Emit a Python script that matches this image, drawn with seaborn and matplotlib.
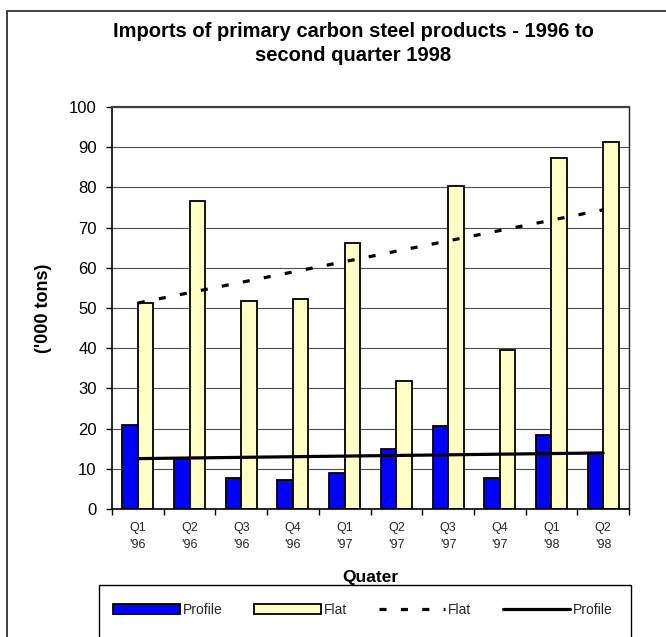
import numpy as np
import pandas as pd
import matplotlib
matplotlib.use("Agg")
import matplotlib.pyplot as plt
import seaborn as sns
from matplotlib.patches import Patch, Rectangle
from matplotlib.lines import Line2D

# ---- data ----
quarters = ["Q1\n'96", "Q2\n'96", "Q3\n'96", "Q4\n'96", "Q1\n'97",
            "Q2\n'97", "Q3\n'97", "Q4\n'97", "Q1\n'98", "Q2\n'98"]
profile = [20.8, 12.5, 7.6, 7.1, 8.9, 15.0, 20.6, 7.6, 18.3, 14.0]
flat = [51.2, 76.6, 51.7, 52.2, 66.2, 31.9, 80.3, 39.6, 87.4, 91.2]
series_names = ["Profile", "Flat"]
title = "Imports of primary carbon steel products - 1996 to\nsecond quarter 1998"
y_label = "('000 tons)"
x_label = "Quater"

BLUE = "#0000FF"
YELLOW = "#FFFFC6"

df = pd.DataFrame({
    "quarter": quarters * 2,
    "value": profile + flat,
    "series": ["Profile"] * len(quarters) + ["Flat"] * len(quarters),
})

sns.set_theme(style="white")
plt.rcParams["font.family"] = ["Liberation Sans", "DejaVu Sans"]

fig = plt.figure(figsize=(6.66, 6.37), dpi=100)
W, H = 666, 637
ax = fig.add_axes([112 / W, 1 - 509 / H, 517 / W, 402 / H])

sns.barplot(data=df, x="quarter", y="value", hue="series",
            hue_order=series_names, palette=[BLUE, YELLOW], saturation=1,
            order=quarters, width=0.6, gap=0, edgecolor="black",
            linewidth=1.3, legend=False, ax=ax, zorder=2)

pos = np.arange(len(quarters))
sns.regplot(x=pos, y=np.array(flat), scatter=False, ci=None, truncate=True,
            ax=ax, line_kws=dict(color="black", lw=2.3, ls=(0, (2.2, 4.5)), zorder=4))
sns.regplot(x=pos, y=np.array(profile), scatter=False, ci=None, truncate=True,
            ax=ax, line_kws=dict(color="black", lw=2.3, ls="-", zorder=4))

ax.set_xlim(-0.5, len(quarters) - 0.5)
ax.set_ylim(0, 100)
ax.set_yticks(np.arange(0, 101, 10))
ax.set_xticks(pos)
ax.set_xticklabels(quarters)
ax.set_xticks(np.arange(-0.5, len(quarters), 1.0), minor=True)

ax.set_axisbelow(True)
ax.yaxis.grid(True, color="0.3", lw=0.8)
ax.xaxis.grid(False)

for side, c, lw in [("left", "black", 1.2), ("bottom", "black", 1.2),
                    ("top", "0.25", 1.6), ("right", "0.1", 1.0)]:
    ax.spines[side].set_visible(True)
    ax.spines[side].set_color(c)
    ax.spines[side].set_linewidth(lw)

ax.tick_params(axis="y", which="major", direction="out", length=4, width=1,
               color="black", labelsize=12, pad=7, left=True)
ax.tick_params(axis="x", which="major", length=0, labelsize=9, pad=9)
ax.tick_params(axis="x", which="minor", direction="out", length=4, width=1,
               color="black", bottom=True)
for t in ax.get_xticklabels():
    t.set_linespacing(1.6)
for t in ax.get_yticklabels():
    t.set_color("black")

ax.set_ylabel(y_label, fontsize=13, fontweight="bold", color="black")
ax.yaxis.set_label_coords(-0.116, 0.5)
ax.set_xlabel(x_label, fontsize=12.5, fontweight="bold", color="black")
ax.xaxis.set_label_coords(0.5, -0.152)

fig.text(353 / W, 1 - 22 / H, title, ha="center", va="top", fontsize=14.5,
         fontweight="bold", linespacing=1.35, color="black")

# outer chart border (cropped on right and bottom)
fig.patches.append(Rectangle((7 / W, -0.1), 1.2, 1 - 10.7 / H + 0.1,
                             transform=fig.transFigure, fill=False,
                             edgecolor="0.2", lw=1.3, clip_on=False))
# legend box
fig.patches.append(Rectangle((99 / W, -0.1), (631 - 99) / W, 1 - 585 / H + 0.1,
                             transform=fig.transFigure, fill=False,
                             edgecolor="black", lw=1.0, clip_on=False))

handles = [
    Patch(facecolor=BLUE, edgecolor="black", lw=1.3),
    Patch(facecolor=YELLOW, edgecolor="black", lw=1.3),
    Line2D([], [], color="black", lw=2.3, ls=(0, (2.2, 4.5))),
    Line2D([], [], color="black", lw=2.3, ls="-"),
]
labels = ["Profile", "Flat", "Flat", "Profile"]
fig.legend(handles, labels, loc="upper left", bbox_to_anchor=(113 / W, 1 - 603 / H),
           ncol=4, frameon=False, fontsize=10, handlelength=4.8,
           handletextpad=0.2, columnspacing=2.3, borderpad=0, borderaxespad=0)

fig.savefig("out.png", dpi=100)
